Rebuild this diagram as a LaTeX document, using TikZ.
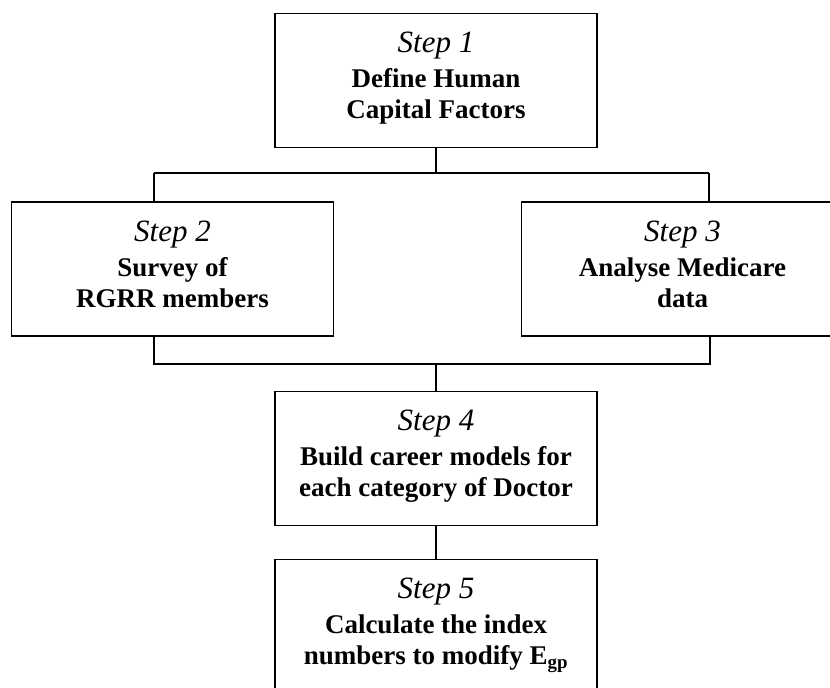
\documentclass[tikz,border=0pt]{standalone}
\usepackage{fontspec}
\setmainfont{Liberation Serif}
\usetikzlibrary{calc}
\begin{document}
\begin{tikzpicture}[x=1pt,y=-1pt,
  stepbox/.style={draw, line width=1.5pt, minimum width=322pt, minimum height=134pt, inner sep=0pt},
  steplabel/.style={font=\fontsize{31}{31}\selectfont\itshape, anchor=base, inner sep=0pt},
  bodyline/.style={font=\fontsize{27}{27}\selectfont\bfseries, anchor=base, inner sep=0pt},
  conn/.style={line width=1.5pt}]
\useasboundingbox (0,0) rectangle (830,688);
\clip (0,0) rectangle (830,688);
% boxes
\node[stepbox] (b1) at (436,80.5) {};
\node[stepbox] (b2) at (172.5,269) {};
\node[stepbox] (b3) at (682.5,269) {};
\node[stepbox] (b4) at (436,458.5) {};
\node[stepbox] (b5) at (436,626.5) {};
% texts
\node[steplabel] (t1a) at ($(b1.north)+(0,40)$) {Step 1};
\node[bodyline]  (t1b) at ($(b1.north)+(0,75)$) {Define Human};
\node[bodyline]  (t1c) at ($(b1.north)+(0,106)$) {Capital Factors};
\node[steplabel] (t2a) at ($(b2.north)+(0,40)$) {Step 2};
\node[bodyline]  (t2b) at ($(b2.north)+(0,75)$) {Survey of};
\node[bodyline]  (t2c) at ($(b2.north)+(0,106)$) {RGRR members};
\node[steplabel] (t3a) at ($(b3.north)+(0,40)$) {Step 3};
\node[bodyline]  (t3b) at ($(b3.north)+(0,75)$) {Analyse Medicare};
\node[bodyline]  (t3c) at ($(b3.north)+(0,106)$) {data};
\node[steplabel] (t4a) at ($(b4.north)+(0,40)$) {Step 4};
\node[bodyline]  (t4b) at ($(b4.north)+(0,75)$) {Build career models for};
\node[bodyline]  (t4c) at ($(b4.north)+(0,106)$) {each category of Doctor};
\node[steplabel] (t5a) at ($(b5.north)+(0,40)$) {Step 5};
\node[bodyline]  (t5b) at ($(b5.north)+(0,75)$) {Calculate the index};
\node[bodyline]  (t5c) at ($(b5.north)+(0,106)$) {numbers to modify E\textsubscript{gp}};
% junctions
\coordinate (j1)  at (436,173);
\coordinate (j1l) at (154,173);
\coordinate (j1r) at (709,173);
\coordinate (j2)  at (436,364);
\coordinate (j2l) at (154,364);
\coordinate (j2r) at (710,364);
% connectors
\draw[conn] (b1.south) -- (j1);
\draw[conn] (j1l) -- (j1r);
\draw[conn] (j1l) -- (j1l |- b2.north);
\draw[conn] (j1r) -- (j1r |- b3.north);
\draw[conn] (j2l |- b2.south) -- (j2l) -- (j2r) -- (j2r |- b3.south);
\draw[conn] (j2) -- (b4.north);
\draw[conn] (b4.south) -- (b5.north);
\end{tikzpicture}
\end{document}
